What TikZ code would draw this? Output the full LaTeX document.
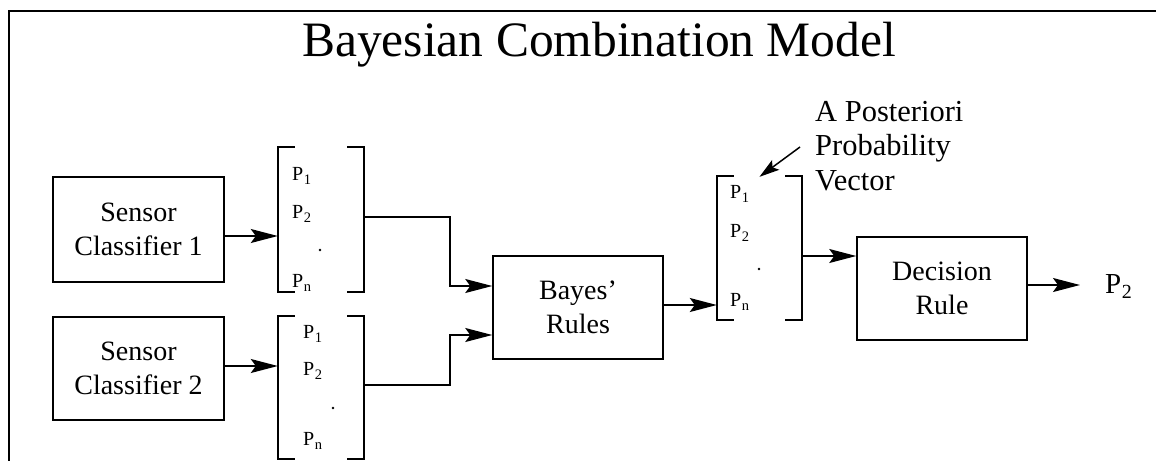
\documentclass[tikz,border=0pt]{standalone}
\usepackage{fontspec}
\setmainfont{Liberation Serif}
\usetikzlibrary{arrows.meta}
\newcommand{\vP}[1]{P\kern0.6pt\raisebox{-4pt}{\fontsize{14.5}{14.5}\selectfont #1}}
\begin{document}
\begin{tikzpicture}[x=1pt,y=-1pt,
  blk/.style={draw, line width=1.5pt, minimum width=171pt, minimum height=104pt, align=center, font=\fontsize{28}{34}\selectfont, inner sep=0pt},
  arr/.style={line width=1.5pt, -{Stealth[length=27pt,width=14pt,inset=5pt]}},
  ln/.style={line width=1.5pt},
  vec/.style={minimum width=86pt, minimum height=145pt, inner sep=0pt},
  ent/.style={anchor=base west, font=\fontsize{20}{20}\selectfont, inner sep=0pt},
  dot/.style={circle, fill, inner sep=0pt, minimum size=2.6pt},
  lbl/.style={font=\fontsize{30.5}{34.5}\selectfont, inner sep=0pt, align=left}
]
\useasboundingbox (0,0) rectangle (1156,461);
\fill[white] (0,0) rectangle (1156,461);
\coordinate (tr) at (1156,11);
\coordinate (bl) at (9,461);
\draw[line width=2pt] (tr) -- (9,11) -- (bl);

\node[font=\fontsize{49.5}{50}\selectfont, anchor=base west, inner sep=0pt] (title) at (302,56) {Bayesian Combination Model};

\node[blk, minimum height=105pt] (sc1) at (138.5,229.5) {Sensor\\Classifier 1};
\node[blk, minimum height=103pt] (sc2) at (138.5,368.5) {Sensor\\Classifier 2};
\node[blk, minimum height=103pt, minimum width=170pt] (bayes) at (578,307.5) {Bayes'\\Rules};
\node[blk, minimum height=103pt, minimum width=170pt] (dec) at (942,288.5) {Decision\\Rule};

\node[vec] (v1) at (321,219.5) {};
\node[vec, minimum height=143pt] (v2) at (321,387.5) {};
\node[vec, minimum height=144pt, minimum width=85pt] (v3) at (759.5,248) {};
\foreach \v in {v1,v2,v3} {
  \draw[ln] ([xshift=17pt]\v.north west) -- (\v.north west) -- (\v.south west) -- ([xshift=17pt]\v.south west);
  \draw[ln] ([xshift=-17pt]\v.north east) -- (\v.north east) -- (\v.south east) -- ([xshift=-17pt]\v.south east);
}

\node[ent] (v1a) at (292,180) {\vP{1}};
\node[ent] (v1b) at (292,218) {\vP{2}};
\node[dot] (v1d) at (320,250) {};
\node[ent] (v1n) at (292,287) {\vP{n}};

\node[ent] (v2a) at (303,338) {\vP{1}};
\node[ent] (v2b) at (303,375) {\vP{2}};
\node[dot] (v2d) at (333,408) {};
\node[ent] (v2n) at (303,445) {\vP{n}};

\node[ent] (v3a) at (730,198) {\vP{1}};
\node[ent] (v3b) at (730,237) {\vP{2}};
\node[dot] (v3d) at (759,269) {};
\node[ent] (v3n) at (730,306) {\vP{n}};

\node[anchor=base west, inner sep=0pt, font=\fontsize{29}{29}\selectfont] (out) at (1105,293) {P\kern0.5pt\raisebox{-5pt}{\fontsize{20}{20}\selectfont 2}};

\node[lbl, anchor=west] (ann) at (815,146) {A Posteriori\\Probability\\Vector};

\draw[arr] (sc1.east |- 0,236) -- (v1.west |- 0,236);
\draw[arr] (sc2.east |- 0,366) -- (v2.west |- 0,366);
\draw[arr] (v1.east |- 0,217) -- (450,217) -- (450,286) -- (bayes.west |- 0,286);
\draw[arr] (v2.east |- 0,385) -- (450,385) -- (450,335) -- (bayes.west |- 0,335);
\draw[arr] (bayes.east |- 0,305) -- (v3.west |- 0,305);
\draw[arr] (v3.east |- 0,256) -- (dec.west |- 0,256);
\draw[arr] (dec.east |- 0,285) -- ([xshift=-25pt]out.west |- 0,285);
\draw[line width=1.5pt, -{Stealth[length=20pt,width=12pt,inset=4pt]}] ([xshift=-15pt]ann.west |- 0,147) -- ([yshift=-1pt]v3.north);
\end{tikzpicture}
\end{document}
